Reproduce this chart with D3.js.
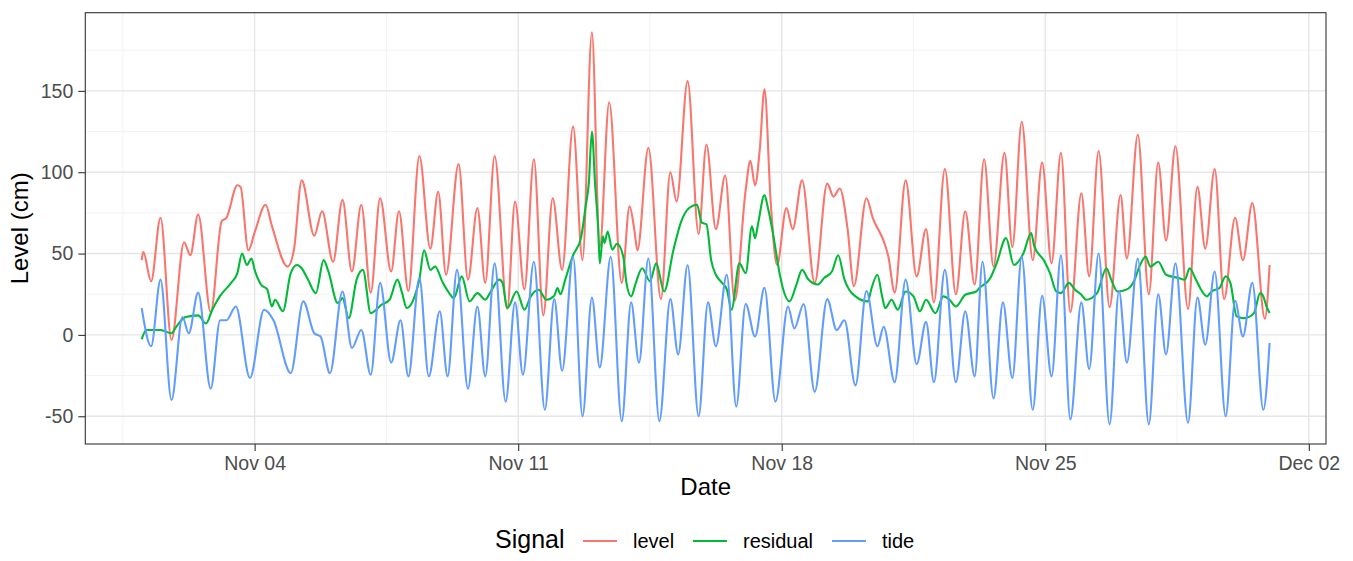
<!DOCTYPE html>
<html><head><meta charset="utf-8">
<script src="https://cdn.jsdelivr.net/npm/d3@7"></script>
<style>
body{margin:0;background:#fff}
text{font-family:"Liberation Sans",Arial,Helvetica,sans-serif}
</style>
</head><body>
<svg id="chart" width="1353" height="561"></svg>
<script>
// ---------------- DATA ----------------
const startDate = "2022-11-01T00:00:00Z";   // hour 0
const lastHour = 719;
const seriesNames = ["level", "residual", "tide"];
const seriesColors = ["#F8766D", "#00BA38", "#619CFF"];
const yTickValues = [-50, 0, 50, 100, 150];
const yTickLabels = ["-50", "0", "50", "100", "150"];
const xTickDates = ["2022-11-04", "2022-11-11", "2022-11-18", "2022-11-25", "2022-12-02"];
const xTickLabels = ["Nov 04", "Nov 11", "Nov 18", "Nov 25", "Dec 02"];

// [hours since start, cm]
const level = [[0,46],[1,51],[6,33],[12,72],[19,-3],[27,57],[31,49],[36,74],[44,14],[51,70],[54,72],[61,92],[63,91],[68,52],[72,63],[79,80],[83,67],[93,42],[97,52],[102,95],[110,61],[115,76],[122,45],[128,83],[134,39],[140,80],[146,26],[152,84],[159,39],[164,76],[170,27],[177,110],[184,53],[189,88],[194,37],[202,105],[208,34],[214,78],[219,32],[225,110],[233,16],[238,82],[244,28],[250,108],[256,12],[262,84],[268,40],[275,128],[281,46],[287,186],[292,54],[298,143],[306,32],[311,79],[314,65],[316,52],[323,115],[331,22],[337,100],[341,82],[348,156],[355,62],[360,117],[366,65],[372,98],[378,21],[385,89],[388,107],[391,92],[394,114],[397,151],[401,81],[405,43],[411,78],[415,65],[421,95],[429,32],[437,93],[441,85],[445,90],[450,65],[454,30],[462,84],[466,72],[474,55],[476,48],[480,26],[487,95],[494,36],[500,65],[505,20],[512,102],[519,25],[525,76],[531,31],[537,108],[543,42],[550,112],[555,54],[561,131],[568,46],[574,106],[580,44],[586,112],[592,14],[599,87],[604,36],[610,113],[617,17],[624,86],[628,47],[635,123],[642,25],[648,106],[653,58],[659,116],[667,16],[673,91],[678,53],[684,102],[690,22],[697,72],[702,46],[708,81],[716,10],[719,43]];

const residual = [[0,-2.6],[3,3],[12,3],[19,1],[22,5],[28,11],[36,12],[41,7],[45,15.5],[50,24],[57,32],[61,38],[64,50],[67,43],[70,47],[72,40],[76,31],[80,28],[83,17.5],[85,21.6],[90,14.5],[95,38],[99,43],[102,41],[106,34],[111,25.7],[116,46],[119,39],[125,19.6],[128,22.6],[132,10.3],[137,34],[141,40],[146,13.4],[153,18.6],[158,21.6],[163,34],[166,25.7],[169,16.5],[174,23.7],[177,34],[180,52],[184,40],[187,42],[192,32],[196,25.7],[199,22.6],[204,36],[209,20.6],[214,25.7],[219,21.6],[222,25.7],[228,34],[230,32],[233,16.5],[239,26.7],[244,15.5],[248,23.7],[253,27.8],[258,21.6],[263,24],[265,28.8],[267,25],[270,34],[275,49],[280,59.5],[283,79],[285,93],[287,125],[289,93],[291,65],[292,44],[294,60.6],[295,56.5],[297,63.6],[300,52.4],[303,56],[307,48],[309,32],[312,23.7],[315,32],[319,41],[324,33],[328,44],[333,26.7],[339,52.4],[344,70],[349,78],[354,80],[357,69],[360,68],[363,46],[366,37],[369,33],[373,28],[376,15.5],[381,44],[385,38],[389,66.7],[391,59.5],[393,68.8],[397,86],[399,79],[402,64.7],[407,36],[409,27.8],[413,20.6],[417,29.8],[421,40],[425,34],[431,31],[435,35],[440,39],[444,49],[448,34],[451,27.8],[455,23.7],[463,20.6],[465,27.8],[469,37],[472,23.7],[474,16.5],[478,21.6],[482,15.5],[487,26.7],[492,23.7],[496,14.5],[500,21.6],[506,13.4],[511,23.7],[515,21.6],[519,17.5],[525,24.7],[532,26.7],[534,28.8],[541,35],[545,44],[551,59.5],[556,43],[562,50],[567,62.6],[569,54.4],[575,46],[579,38],[583,26.7],[586,25.7],[591,32],[595,27.8],[599,24.7],[602,21.6],[609,25.7],[615,41],[618,34],[622,26.7],[628,28],[633,34],[636,42],[640,48],[643,42],[648,45],[653,37],[661,35],[665,34],[668,41],[672,34],[676,26.7],[679,23.7],[682,26.7],[687,28.8],[691,36],[694,32],[698,11.4],[703,10.3],[709,13.4],[713,25.7],[715,23.7],[717,17.5],[719,13.4]];

const tide = [[0,16.5],[6,-7],[12,34],[19,-40],[26,11],[30,1],[36,26],[44,-33],[50,9],[54,9],[60,17.5],[69,-26.5],[78,15.5],[84,9],[95,-23.5],[103,20.6],[110,1],[114,-1],[120,-23.5],[128,26.7],[134,-8],[140,3],[146,-24.5],[152,32],[159,-17],[165,9],[170,-25.5],[177,35],[183,-25.5],[190,14.5],[195,-25.5],[201,40],[208,-33],[214,17.5],[219,-25.5],[225,44],[232,-41],[238,20],[243,-24.5],[250,45],[257,-46],[263,22],[268,-22],[275,48],[281,-50],[287,23],[292,-20],[299,48],[306,-53],[312,20],[317,-17],[323,47],[330,-53],[337,22],[342,-12],[348,43],[355,-50],[361,20],[366,-7],[373,37],[379,-44],[385,19],[391,-1],[397,29],[404,-41],[412,17.5],[416,4],[422,19],[429,-35],[437,22],[443,3],[448,9],[455,-31],[462,27],[469,-7],[473,5],[480,-29],[487,34],[494,-18],[500,8],[505,-29],[512,40],[519,-29],[525,14.5],[531,-25.5],[536,45],[543,-39],[549,20],[555,-26.5],[561,48],[568,-46],[574,24],[580,-25.5],[586,49],[592,-52],[599,20],[604,-21],[610,50],[617,-55],[623,27],[628,-17],[635,47],[642,-55],[648,25],[653,-12],[659,44],[667,-54],[673,23],[678,-6],[684,39],[691,-50],[697,21],[702,-1],[708,32],[715,-46],[719,-5]];

const seriesData = [level, residual, tide];

// ---------------- LAYOUT ----------------
const W = 1353, H = 561;
const panel = {left: 85.3, right: 1326, top: 12.7, bottom: 444};
const svg = d3.select("#chart");
svg.append("rect").attr("width", W).attr("height", H).attr("fill", "#fff");

const t0 = new Date(startDate).getTime();
const toDate = h => new Date(t0 + h * 3600e3);

// scales with ggplot-like 5% expansion
const xSpan = lastHour * 3600e3;
const x = d3.scaleUtc()
  .domain([new Date(t0 - 0.05 * xSpan), new Date(t0 + lastHour * 3600e3 + 0.05 * xSpan)])
  .range([panel.left, panel.right]);

const allVals = seriesData.flat().map(d => d[1]);
const yMin = d3.min(allVals), yMax = d3.max(allVals);
const ySpan = yMax - yMin;
const y = d3.scaleLinear()
  .domain([yMin - 0.05 * ySpan, yMax + 0.05 * ySpan])
  .range([panel.bottom, panel.top]);

// ---------------- GRID ----------------
const grid = svg.append("g");
const xMajor = xTickDates.map(s => new Date(s + "T00:00:00Z"));
const xStep = xMajor[1] - xMajor[0];
const xMinor = [new Date(xMajor[0] - xStep / 2)].concat(xMajor.map(d => new Date(+d + xStep / 2)))
  .filter(d => d >= x.domain()[0] && d <= x.domain()[1]);
const yStep = yTickValues[1] - yTickValues[0];
const yMinor = [yTickValues[0] - yStep / 2].concat(yTickValues.map(v => v + yStep / 2))
  .filter(v => v >= y.domain()[0] && v <= y.domain()[1]);

grid.selectAll(".xmin").data(xMinor).join("line")
  .attr("x1", d => x(d)).attr("x2", d => x(d))
  .attr("y1", panel.top).attr("y2", panel.bottom)
  .attr("stroke", "#EFEFEF").attr("stroke-width", 0.8);
grid.selectAll(".ymin").data(yMinor).join("line")
  .attr("x1", panel.left).attr("x2", panel.right)
  .attr("y1", d => y(d)).attr("y2", d => y(d))
  .attr("stroke", "#EFEFEF").attr("stroke-width", 0.8);
grid.selectAll(".xmaj").data(xMajor).join("line")
  .attr("x1", d => x(d)).attr("x2", d => x(d))
  .attr("y1", panel.top).attr("y2", panel.bottom)
  .attr("stroke", "#E6E6E6").attr("stroke-width", 1.4);
grid.selectAll(".ymaj").data(yTickValues).join("line")
  .attr("x1", panel.left).attr("x2", panel.right)
  .attr("y1", d => y(d)).attr("y2", d => y(d))
  .attr("stroke", "#E6E6E6").attr("stroke-width", 1.4);

// ---------------- LINES ----------------
svg.append("clipPath").attr("id", "clip").append("rect")
  .attr("x", panel.left).attr("y", panel.top)
  .attr("width", panel.right - panel.left).attr("height", panel.bottom - panel.top);

const line = d3.line()
  .x(d => x(toDate(d[0])))
  .y(d => y(d[1]))
  .curve(d3.curveMonotoneX);

const lines = svg.append("g").attr("clip-path", "url(#clip)");
seriesData.forEach((s, i) => {
  lines.append("path").datum(s)
    .attr("d", line)
    .attr("fill", "none")
    .attr("stroke", seriesColors[i])
    .attr("stroke-width", 2.1)
    .attr("stroke-linejoin", "round");
});

// panel border
svg.append("rect")
  .attr("x", panel.left).attr("y", panel.top)
  .attr("width", panel.right - panel.left).attr("height", panel.bottom - panel.top)
  .attr("fill", "none").attr("stroke", "#333333").attr("stroke-width", 1.1);

// ---------------- AXES ----------------
const yAxis = svg.append("g")
  .attr("transform", `translate(${panel.left},0)`)
  .call(d3.axisLeft(y).tickValues(yTickValues).tickSize(7).tickPadding(5)
    .tickFormat((d, i) => yTickLabels[i]));
const xAxis = svg.append("g")
  .attr("transform", `translate(0,${panel.bottom})`)
  .call(d3.axisBottom(x).tickValues(xMajor).tickSize(7).tickPadding(5)
    .tickFormat((d, i) => xTickLabels[i]));
[xAxis, yAxis].forEach(a => {
  a.select(".domain").remove();
  a.selectAll(".tick line").attr("stroke", "#333333").attr("stroke-width", 1.1);
  a.selectAll(".tick text").attr("fill", "#4D4D4D")
    .style("font-size", "19.5px")
    .style("font-family", '"Liberation Sans",Arial,sans-serif');
});

// axis titles
svg.append("text")
  .attr("x", (panel.left + panel.right) / 2).attr("y", 495)
  .attr("text-anchor", "middle").attr("fill", "#000")
  .style("font-size", "24px").text("Date");
svg.append("text")
  .attr("transform", `translate(27.5,${(panel.top + panel.bottom) / 2}) rotate(-90)`)
  .attr("text-anchor", "middle").attr("fill", "#000")
  .style("font-size", "24px").text("Level (cm)");

// ---------------- LEGEND ----------------
const legend = svg.append("g");
legend.append("text").attr("x", 495).attr("y", 548)
  .attr("fill", "#000").style("font-size", "25px").text("Signal");
const keyX = [583, 693, 832];
seriesNames.forEach((n, i) => {
  legend.append("line")
    .attr("x1", keyX[i]).attr("x2", keyX[i] + 34)
    .attr("y1", 541).attr("y2", 541)
    .attr("stroke", seriesColors[i]).attr("stroke-width", 2);
  legend.append("text").attr("x", keyX[i] + 50).attr("y", 548)
    .attr("fill", "#000").style("font-size", "20px").text(n);
});
</script>
</body></html>
